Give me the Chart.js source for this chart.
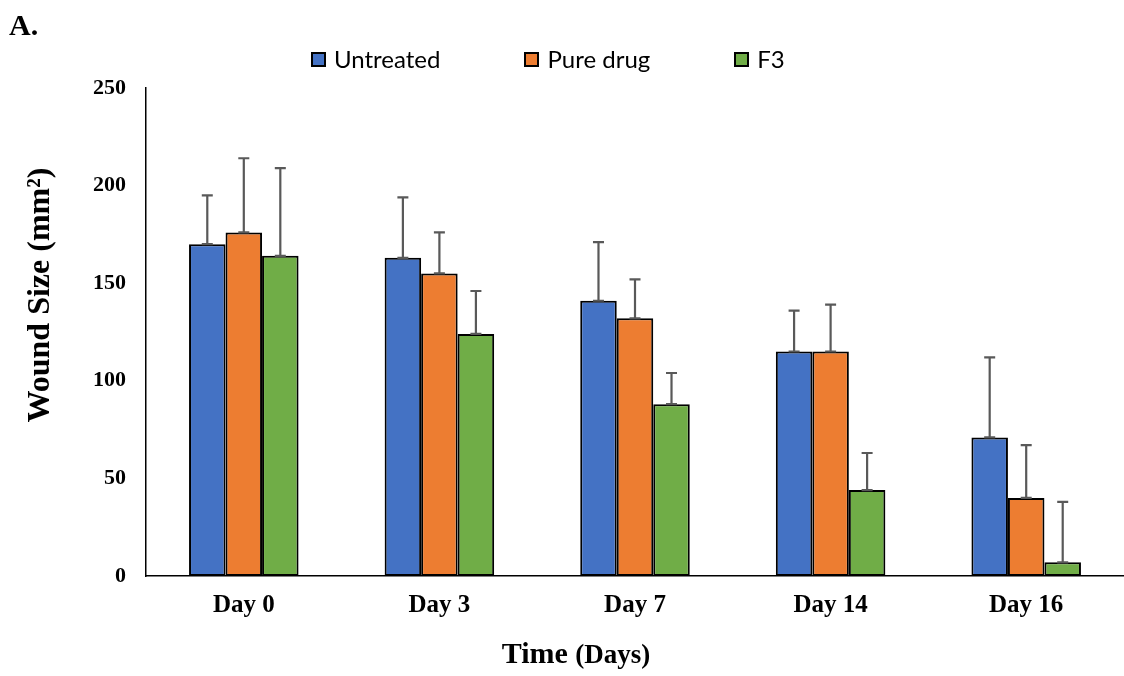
<!DOCTYPE html>
<html>
<head>
<meta charset="utf-8">
<script src="https://cdn.jsdelivr.net/npm/chart.js@4.4.1/dist/chart.umd.min.js"></script>
<style>
  html, body { margin: 0; padding: 0; background: #ffffff; }
  #wrap { position: relative; width: 1124px; height: 676px; overflow: hidden; }
  canvas { position: absolute; left: 0; top: 0; }
  .lbl { position: absolute; font-family: "Liberation Serif", "Times New Roman", serif; font-weight: bold; color: #000; line-height: 1; white-space: nowrap; }
  #panel { left: 9px; top: 25px; font-size: 30px; transform: translateY(-50%); }
  #ytitle { left: 38px; top: 295px; font-size: 32px; transform: translate(-50%, -50%) rotate(-90deg); }
  #xtitle { left: 576px; top: 653px; font-size: 30px; transform: translate(-50%, -50%); }
  #xtitle .unit { font-size: 27px; }
  #legend { position: absolute; left: 311px; top: 59px; transform: translateY(-50%); display: flex; gap: 84px; align-items: center;
            font-family: "Lato", "Open Sans", sans-serif; font-size: 24px; color: #000; line-height: 1; }
  .item { display: flex; align-items: center; }
  .swatch { width: 15px; height: 15px; box-sizing: border-box; border: 2px solid #000; margin-right: 8px; }
</style>
</head>
<body>
<div id="wrap">
  <canvas id="chart" width="1124" height="676"></canvas>
  <div class="lbl" id="panel">A.</div>
  <div class="lbl" id="ytitle">Wound Size (mm²)</div>
  <div class="lbl" id="xtitle">Time <span class="unit">(Days)</span></div>
  <div id="legend"></div>
</div>
<script>
// Time points on the x axis
const days = ["Day 0", "Day 3", "Day 7", "Day 14", "Day 16"];

// Mean wound size (mm²) per group
const untreated = [170, 163, 141, 115, 71];
const pureDrug  = [176, 155, 132, 115, 40];
const f3        = [164, 124, 88, 44, 7];

// Upper error (SD) per group
const untreatedErr = [25, 31, 30, 21, 41];
const pureDrugErr  = [38, 21, 20, 24, 27];
const f3Err        = [45, 22, 16, 19, 31];

// Y axis range and step
const yMin = 0, yMax = 250, yStep = 50;

const groups = [
  { label: "Untreated", data: untreated, err: untreatedErr, color: "#4472C4" },
  { label: "Pure drug", data: pureDrug,  err: pureDrugErr,  color: "#ED7D31" },
  { label: "F3",        data: f3,        err: f3Err,        color: "#70AD47" }
];

// Legend built from the series
const legend = document.getElementById("legend");
groups.forEach(g => {
  const item = document.createElement("div");
  item.className = "item";
  const sw = document.createElement("div");
  sw.className = "swatch";
  sw.style.background = g.color;
  const tx = document.createElement("span");
  tx.textContent = g.label;
  item.appendChild(sw);
  item.appendChild(tx);
  legend.appendChild(item);
});

// Draws the upward error bars with caps at both ends
const errorBars = {
  id: "errorBars",
  afterDatasetsDraw(chart) {
    const { ctx, scales: { y } } = chart;
    ctx.save();
    ctx.strokeStyle = "#595959";
    ctx.lineWidth = 2.2;
    chart.data.datasets.forEach((ds, di) => {
      const meta = chart.getDatasetMeta(di);
      meta.data.forEach((bar, i) => {
        const x = bar.x;
        const yBase = y.getPixelForValue(ds.data[i]);
        const yTop = y.getPixelForValue(ds.data[i] + ds.errors[i]);
        const cap = 5.5;
        ctx.beginPath();
        ctx.moveTo(x, yBase);
        ctx.lineTo(x, yTop);
        ctx.moveTo(x - cap, yTop);
        ctx.lineTo(x + cap, yTop);
        ctx.moveTo(x - cap, yBase);
        ctx.lineTo(x + cap, yBase);
        ctx.stroke();
      });
    });
    ctx.restore();
  }
};

new Chart(document.getElementById("chart"), {
  type: "bar",
  data: {
    labels: days,
    datasets: groups.map(g => ({
      label: g.label,
      data: g.data,
      errors: g.err,
      backgroundColor: g.color,
      borderColor: "#000000",
      borderWidth: 2,
      borderSkipped: false,
      barPercentage: 1.0,
      categoryPercentage: 0.56
    }))
  },
  options: {
    responsive: false,
    animation: false,
    layout: { padding: { top: 88, left: 0, right: 0, bottom: 0 } },
    plugins: {
      legend: { display: false },
      tooltip: { enabled: false }
    },
    scales: {
      x: {
        grid: { display: false, drawTicks: false },
        border: { display: true, color: "#000000", width: 1.5 },
        ticks: {
          color: "#000000",
          padding: 15,
          font: { family: "'Liberation Serif', 'Times New Roman', serif", size: 25, weight: "bold" }
        },
        afterFit(scale) { scale.height = 100; }
      },
      y: {
        min: yMin,
        max: yMax,
        grid: { display: false, drawTicks: false },
        border: { display: true, color: "#000000", width: 1.5 },
        ticks: {
          stepSize: yStep,
          color: "#000000",
          padding: 20,
          font: { family: "'Liberation Serif', 'Times New Roman', serif", size: 22, weight: "bold" }
        },
        afterFit(scale) { scale.width = 146; }
      }
    }
  },
  plugins: [errorBars]
});
</script>
</body>
</html>
